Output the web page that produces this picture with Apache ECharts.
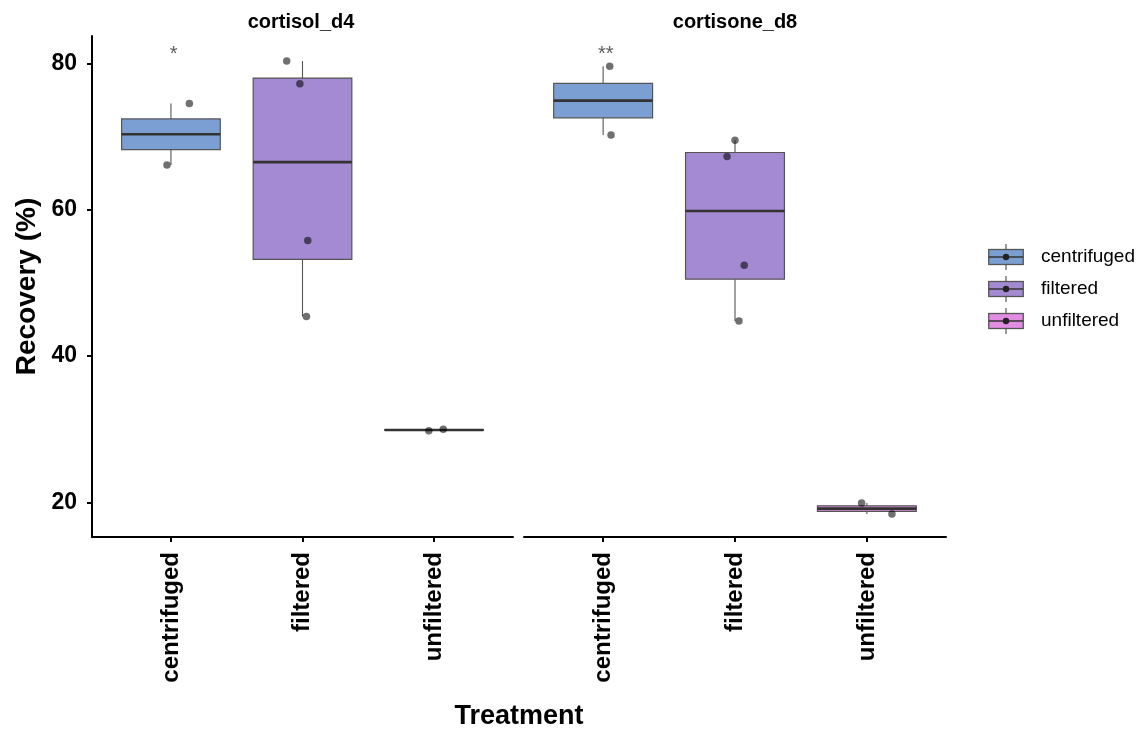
<!DOCTYPE html>
<html>
<head>
<meta charset="utf-8">
<script src="https://cdn.jsdelivr.net/npm/echarts@6/dist/echarts.min.js"></script>
<style>
html,body{margin:0;padding:0;background:#fff;}
#chart{width:1147px;height:734px;}
</style>
</head>
<body>
<div id="chart"></div>
<script>
// ---------------- data ----------------
const panels = ['cortisol_d4', 'cortisone_d8'];
const categories = ['centrifuged', 'filtered', 'unfiltered'];
const colors = ['#7B9FD3', '#A48AD3', '#E28CE3'];
const yTicks = [20, 40, 60, 80];

// observed points (Recovery %) and horizontal jitter (category units)
const d4_centrifuged = [74.5, 66.1];
const d4_centrifuged_jit = [0.14, -0.03];
const d4_filtered = [80.3, 77.2, 55.8, 45.4];
const d4_filtered_jit = [-0.12, -0.02, 0.04, 0.03];
const d4_unfiltered = [29.8, 30.0];
const d4_unfiltered_jit = [-0.04, 0.07];

const d8_centrifuged = [79.6, 70.2];
const d8_centrifuged_jit = [0.05, 0.06];
const d8_filtered = [69.5, 67.25, 52.4, 44.8];
const d8_filtered_jit = [0.0, -0.06, 0.07, 0.03];
const d8_unfiltered = [19.9, 18.4];
const d8_unfiltered_jit = [-0.04, 0.19];

const sigLabels = ['*', '**'];
const sigY = [81.2, 81.2];

// ---------------- helpers ----------------
const FONT = "'Liberation Sans', Arial, sans-serif";
function q7(arr, p) {
  const s = arr.slice().sort((a, b) => a - b);
  const h = (s.length - 1) * p;
  const lo = Math.floor(h), hi = Math.ceil(h);
  return s[lo] + (h - lo) * (s[hi] - s[lo]);
}
function stats(arr, x) {
  return [x, q7(arr, 0), q7(arr, 0.25), q7(arr, 0.5), q7(arr, 0.75), q7(arr, 1)];
}
const panelPoints = [
  [d4_centrifuged, d4_filtered, d4_unfiltered],
  [d8_centrifuged, d8_filtered, d8_unfiltered]
];
const panelJit = [
  [d4_centrifuged_jit, d4_filtered_jit, d4_unfiltered_jit],
  [d8_centrifuged_jit, d8_filtered_jit, d8_unfiltered_jit]
];
const BOX_W = 0.75;

function makeRender(color) {
  return function (params, api) {
    const x = api.value(0);
    const pMin = api.coord([x, api.value(1)]);
    const pQ1 = api.coord([x, api.value(2)]);
    const pMed = api.coord([x, api.value(3)]);
    const pQ3 = api.coord([x, api.value(4)]);
    const pMax = api.coord([x, api.value(5)]);
    const half = api.size([BOX_W, 0])[0] / 2;
    return {
      type: 'group',
      children: [
        { type: 'line', shape: { x1: pMax[0], y1: pMax[1], x2: pQ3[0], y2: pQ3[1] }, style: { stroke: '#555', lineWidth: 1.1 } },
        { type: 'line', shape: { x1: pQ1[0], y1: pQ1[1], x2: pMin[0], y2: pMin[1] }, style: { stroke: '#555', lineWidth: 1.1 } },
        { type: 'rect', shape: { x: pQ3[0] - half, y: pQ3[1], width: 2 * half, height: pQ1[1] - pQ3[1] }, style: { fill: color, stroke: '#555', lineWidth: 1.2 } },
        { type: 'line', shape: { x1: pMed[0] - half, y1: pMed[1], x2: pMed[0] + half, y2: pMed[1] }, style: { stroke: '#333', lineWidth: 2.6 } }
      ]
    };
  };
}

function legendIcon(color) {
  const svg = "<svg xmlns='http://www.w3.org/2000/svg' width='48' height='26' viewBox='0 0 48 26'>" +
    "<line x1='18' y1='0' x2='18' y2='26' stroke='#555' stroke-width='1.2'/>" +
    "<rect x='0.75' y='5.5' width='34.5' height='15' fill='" + color + "' stroke='#555' stroke-width='1.3'/>" +
    "<line x1='0.75' y1='13' x2='35.25' y2='13' stroke='#333' stroke-width='1.6'/>" +
    "<circle cx='18' cy='13' r='3.2' fill='#222'/></svg>";
  return 'image://data:image/svg+xml;charset=utf-8,' + encodeURIComponent(svg);
}

// ---------------- option ----------------
const grids = [
  { left: 92, top: 36, width: 421, height: 501 },
  { left: 524, top: 36, width: 422, height: 501 }
];
const xAxes = [0, 1].map(i => ({
  type: 'value', gridIndex: i, min: 0.4, max: 3.6,
  splitLine: { show: false },
  axisLine: { show: true, onZero: false, lineStyle: { color: '#000', width: 2 } },
  axisTick: { show: true, length: 5, customValues: [1, 2, 3], lineStyle: { color: '#000', width: 2 } },
  axisLabel: {
    customValues: [1, 2, 3], rotate: 90, margin: 15,
    formatter: v => categories[Math.round(v) - 1] || '',
    color: '#000', fontWeight: 'bold', fontSize: 24, fontFamily: FONT
  }
}));
const yAxes = [0, 1].map(i => ({
  type: 'value', gridIndex: i, min: 15.27, max: 83.73,
  splitLine: { show: false },
  name: i === 0 ? 'Recovery (%)' : '',
  nameLocation: 'middle', nameRotate: 90, nameGap: 51,
  nameTextStyle: { color: '#000', fontWeight: 'bold', fontSize: 28, fontFamily: FONT },
  axisLine: { show: i === 0, onZero: false, lineStyle: { color: '#000', width: 2 } },
  axisTick: { show: i === 0, length: 5, customValues: yTicks, lineStyle: { color: '#000', width: 2 } },
  axisLabel: {
    show: i === 0, customValues: yTicks, margin: 15,
    color: '#000', fontWeight: 'bold', fontSize: 23, fontFamily: FONT
  }
}));

const series = [];
for (let p = 0; p < 2; p++) {
  for (let c = 0; c < 3; c++) {
    series.push({
      type: 'custom', name: categories[c], xAxisIndex: p, yAxisIndex: p,
      itemStyle: { color: colors[c] },
      renderItem: makeRender(colors[c]),
      encode: { x: 0, y: [1, 2, 3, 4, 5] },
      data: [stats(panelPoints[p][c], c + 1)],
      silent: true, z: 2
    });
  }
  const pts = [];
  for (let c = 0; c < 3; c++) {
    panelPoints[p][c].forEach((v, k) => pts.push([c + 1 + panelJit[p][c][k], v]));
  }
  series.push({
    type: 'scatter', name: 'pts' + p, xAxisIndex: p, yAxisIndex: p,
    symbolSize: 7.5, itemStyle: { color: 'rgba(0,0,0,0.7)' },
    data: pts, z: 5, silent: true
  });
  series.push({
    type: 'scatter', name: 'sig' + p, xAxisIndex: p, yAxisIndex: p,
    symbolSize: 1, itemStyle: { color: 'rgba(0,0,0,0)' },
    label: {
      show: true, position: 'inside', formatter: () => sigLabels[p],
      color: '#333', fontSize: 20, fontFamily: FONT
    },
    data: [[1.02, sigY[p]]], z: 6, silent: true
  });
}

const option = {
  backgroundColor: '#fff',
  animation: false,
  grid: grids,
  xAxis: xAxes,
  yAxis: yAxes,
  legend: {
    orient: 'vertical', left: 983, top: 239,
    itemWidth: 48, itemHeight: 26, itemGap: 6,
    selectedMode: false,
    textStyle: { color: '#000', fontSize: 19, fontFamily: FONT },
    data: categories.map((n, i) => ({ name: n, icon: legendIcon(colors[i]) }))
  },
  graphic: [
    { type: 'text', x: 301, y: 22, style: { text: panels[0], align: 'center', verticalAlign: 'middle', font: 'bold 20px ' + FONT, fill: '#000' } },
    { type: 'text', x: 735, y: 22, style: { text: panels[1], align: 'center', verticalAlign: 'middle', font: 'bold 20px ' + FONT, fill: '#000' } },
    { type: 'text', x: 519, y: 717, style: { text: 'Treatment', align: 'center', verticalAlign: 'middle', font: 'bold 27px ' + FONT, fill: '#000' } }
  ],
  series: series
};
const chart = echarts.init(document.getElementById('chart'), null, { renderer: 'canvas' });
chart.setOption(option);
</script>
</body>
</html>
